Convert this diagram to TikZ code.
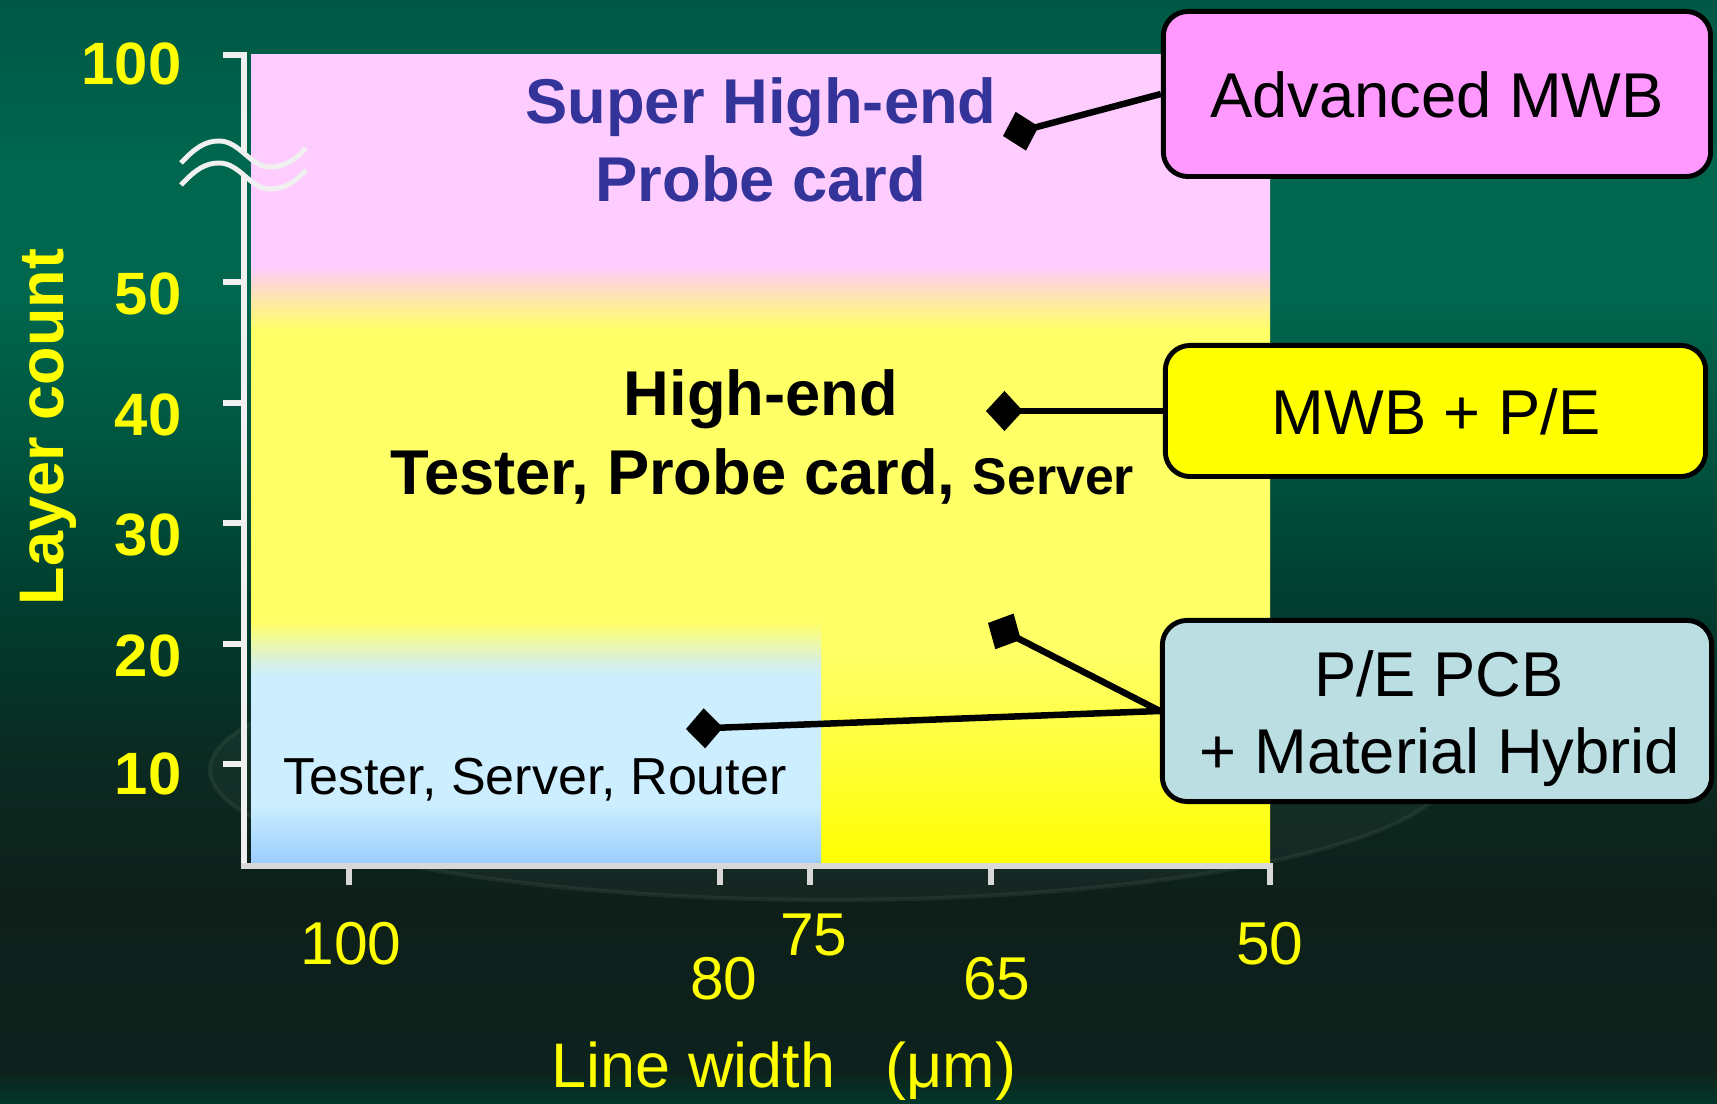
\documentclass[tikz,border=0pt]{standalone}
\usepackage{fontspec}
\setmainfont{Liberation Sans}
\usetikzlibrary{arrows.meta}
% background colours
\definecolor{bgA}{RGB}{0,56,43}
\definecolor{bgB}{RGB}{13,34,28}
\definecolor{bgC}{RGB}{14,31,26}
\definecolor{bgD}{RGB}{11,42,33}
\definecolor{bgE}{RGB}{0,62,47}
\definecolor{bgF}{RGB}{0,84,63}
\definecolor{bgG}{RGB}{0,102,77}
\definecolor{bgH}{RGB}{0,102,78}
\definecolor{bgI}{RGB}{0,88,68}
% plot colours
\definecolor{plY0}{RGB}{255,255,0}
\definecolor{plY1}{RGB}{255,255,45}
\definecolor{plY2}{RGB}{255,255,102}
\definecolor{plP1}{RGB}{255,232,170}
\definecolor{plP2}{RGB}{255,215,215}
\definecolor{plP3}{RGB}{255,204,255}
\definecolor{blB0}{RGB}{153,204,255}
\definecolor{blB1}{RGB}{204,238,255}
\definecolor{blB2}{RGB}{215,240,225}
\definecolor{blB3}{RGB}{235,248,175}
% others
\definecolor{titleblue}{RGB}{51,51,153}
\definecolor{axiscol}{RGB}{240,240,240}
\definecolor{xaxiscol}{RGB}{216,216,216}
\definecolor{boxpink}{RGB}{255,153,255}
\definecolor{boxyellow}{RGB}{255,255,0}
\definecolor{boxblue}{RGB}{186,222,226}
\definecolor{labyellow}{RGB}{255,255,0}
% TikZ maps a path onto the 25bp--75bp band of a 100bp shading
\pgfdeclareverticalshading{bgshade}{100bp}{color(0bp)=(bgA); color(25bp)=(bgA); color(26.5bp)=(bgB); color(34.25bp)=(bgC); color(40.5bp)=(bgD); color(47.8bp)=(bgE); color(54.5bp)=(bgF); color(61.4bp)=(bgG); color(67.75bp)=(bgH); color(75bp)=(bgI); color(100bp)=(bgI)}
\pgfdeclareverticalshading{plotshade}{100bp}{color(0bp)=(plY0); color(25bp)=(plY0); color(30.3bp)=(plY1); color(37.9bp)=(plY2); color(58.05bp)=(plY2); color(59.9bp)=(plP1); color(61bp)=(plP2); color(62.05bp)=(plP3); color(75bp)=(plP3); color(100bp)=(plP3)}
\pgfdeclareverticalshading{blueshade}{100bp}{color(0bp)=(blB0); color(25bp)=(blB0); color(37.7bp)=(blB1); color(63.75bp)=(blB1); color(66.8bp)=(blB2); color(70.3bp)=(blB3); color(75bp)=(plY2); color(100bp)=(plY2)}
\begin{document}
\begin{tikzpicture}[x=0.01cm,y=-0.01cm,
  yaxisline/.style={draw=axiscol, line width=1.75pt},
  xaxisline/.style={draw=xaxiscol, line width=1.75pt},
  wavy/.style={draw=axiscol, line width=1.4pt},
  ytick/.style={text=labyellow, font=\bfseries\fontsize{17}{20}\selectfont, anchor=base east, inner sep=0pt},
  xtick/.style={text=labyellow, font=\fontsize{17.2}{20}\selectfont, anchor=base, inner sep=0pt},
  axtitle/.style={text=labyellow, font=\fontsize{17.9}{21}\selectfont, anchor=base, inner sep=0pt},
  calloutbox/.style={draw=black, line width=1.4pt, rounded corners=7pt, inner sep=0pt},
  boxtext/.style={text=black, font=\fontsize{18}{21}\selectfont, anchor=base, inner sep=0pt},
  plottitle/.style={font=\bfseries\fontsize{18}{21}\selectfont, anchor=base, inner sep=0pt},
  conn/.style={draw=black, line width=1.85pt, -{Diamond[length=10.5pt,width=11.4pt]}}
]
\useasboundingbox (0,0) rectangle (1717,1104);
% background
\shade[shading=bgshade] (0,0) rectangle (1717,1104);
\fill[white, opacity=0.035] (830,770) ellipse (620 and 130);
\draw[white, opacity=0.06, line width=1.2pt] (830,770) ellipse (620 and 130);
% plot regions
\shade[shading=plotshade] (251,55) rectangle (1270,866);
\shade[shading=blueshade] (251,622) rectangle (821,866);
% y axis
\draw[yaxisline] (223,55) -- (244,55) -- (244,153);
\draw[yaxisline] (244,176) -- (244,866);
\foreach \yy in {282,403,523,644,764} { \draw[yaxisline] (223,\yy) -- (244,\yy); }
% break marks
\draw[wavy] (181,163) .. controls (195,148) and (205,141) .. (219,141)
  .. controls (240,141) and (250,167) .. (270,167)
  .. controls (285,167) and (295,160) .. (306,148);
\draw[wavy] (181,185) .. controls (195,170) and (205,163) .. (219,163)
  .. controls (240,163) and (250,189) .. (270,189)
  .. controls (285,189) and (295,182) .. (306,170);
% x axis
\draw[xaxisline] (241,866) -- (1273,866);
\foreach \xx in {349,720,810,991,1270} { \draw[xaxisline] (\xx,866) -- (\xx,885); }
% y tick labels
\node[ytick] (y100) at (182,85) {100};
\node[ytick] (y50) at (182,315) {50};
\node[ytick] (y40) at (182,436) {40};
\node[ytick] (y30) at (182,556) {30};
\node[ytick] (y20) at (182,677) {20};
\node[ytick] (y10) at (182,795) {10};
% x tick labels
\node[xtick] (x100) at (351,965) {100};
\node[xtick] (x80) at (724,1000) {80};
\node[xtick] (x75) at (814,956) {75};
\node[xtick] (x65) at (997,1000) {65};
\node[xtick] (x50) at (1270,965) {50};
% axis titles
\node[axtitle, font=\bfseries\fontsize{17.9}{21}\selectfont, rotate=90] (ytitle) at (64,427) {Layer count};
\node[axtitle] (xtitle) at (784,1088) {Line width\hspace{0.8em}(μm)};
% region texts
\node[plottitle, text=titleblue] (sh1) at (761,124) {Super High-end};
\node[plottitle, text=titleblue] (sh2) at (761,202) {Probe card};
\node[plottitle, text=black] (he1) at (761,416) {High-end};
\node[plottitle, text=black] (he2) at (762,495) {Tester, Probe card, {\fontsize{14.7}{17}\selectfont Server}};
\node[boxtext, font=\fontsize{14.8}{17}\selectfont] (low) at (535,795) {Tester, Server, Router};
% callout boxes
\node[calloutbox, fill=boxpink, minimum width=5.47cm, minimum height=1.65cm] (adv) at (1437,94) {};
\node[boxtext] (advt) at (1437,118) {Advanced MWB};
\node[calloutbox, fill=boxyellow, minimum width=5.40cm, minimum height=1.31cm] (mwb) at (1435.5,411) {};
\node[boxtext] (mwbt) at (1436,435) {MWB + P/E};
\node[calloutbox, fill=boxblue, minimum width=5.49cm, minimum height=1.81cm] (pe) at (1437,711) {};
\node[boxtext] (pet1) at (1439,697) {P/E PCB};
\node[boxtext] (pet2) at (1440,774) {+ Material Hybrid};
% connectors
\coordinate (d1) at (1003,136);
\coordinate (d2) at (986,411);
\coordinate (d3) at (988,623);
\coordinate (d4) at (686,729);
\draw[conn] (adv.west) -- (d1);
\draw[conn] (mwb.west) -- (d2);
\draw[conn] (pe.west) -- (d3);
\draw[conn] (pe.west) -- (d4);
\end{tikzpicture}
\end{document}
